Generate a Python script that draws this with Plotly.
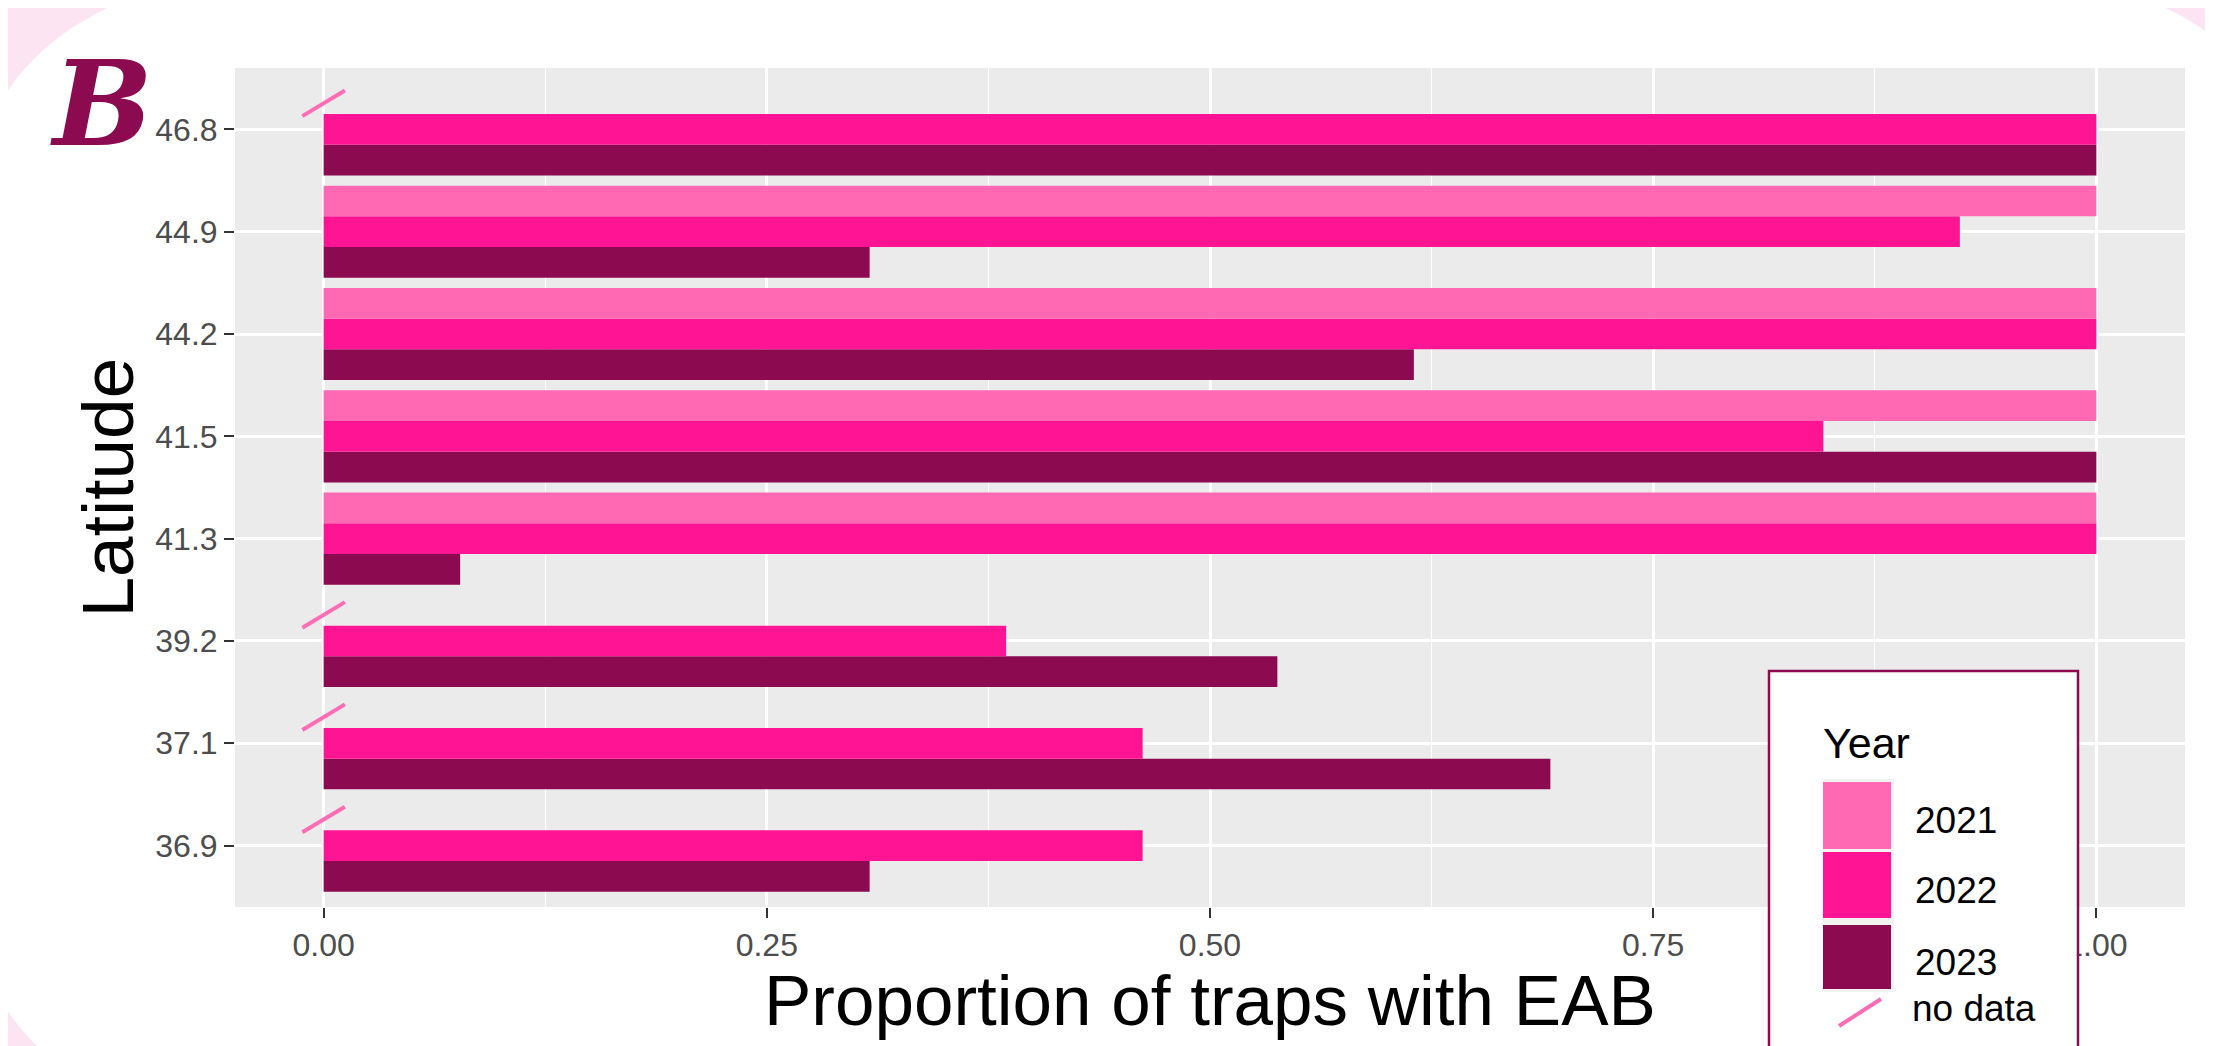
import plotly.graph_objects as go

# ---------------- data ----------------
latitudes = ["36.9", "37.1", "39.2", "41.3", "41.5", "44.2", "44.9", "46.8"]
years = ["2021", "2022", "2023"]
prop_2021 = [None, None, None, 1.0, 1.0, 1.0, 1.0, None]
prop_2022 = [0.462, 0.462, 0.385, 1.0, 0.846, 1.0, 0.923, 1.0]
prop_2023 = [0.308, 0.692, 0.538, 0.077, 1.0, 0.615, 0.308, 1.0]
x_tick_vals = [0.0, 0.25, 0.5, 0.75, 1.0]
x_tick_text = ["0.00", "0.25", "0.50", "0.75", "1.00"]
x_title = "Proportion of traps with EAB"
y_title = "Latitude"
legend_title = "Year"
no_data_label = "no data"

# ---------------- style ----------------
C2021, C2022, C2023 = "#FF69B4", "#FF1493", "#8B0A50"
SLASH = "#FF6EB4"
PINK = "#FCE4F2"
PANEL = "#EBEBEB"
FONT = "Liberation Sans, Arial, sans-serif"
OFF = 8                      # page body margin
FW, FH = 2213 - OFF, 1046 - OFF
# plot-area edges in window pixels
L, R, T, B = 235, 2185, 68, 907
PW, PH = R - L, B - T


def px(x):
    return (x - L) / PW


def py(y):
    return (B - y) / PH


ypos = list(range(len(latitudes)))
series = {"2021": (prop_2021, C2021), "2022": (prop_2022, C2022), "2023": (prop_2023, C2023)}

fig = go.Figure()
# horizontal grouped bars: first trace sits at the bottom of each group
for yr in reversed(years):
    vals, col = series[yr]
    fig.add_trace(go.Bar(
        x=vals, y=ypos, orientation="h", name=yr,
        marker=dict(color=col, line=dict(width=0)),
        hoverinfo="x+name",
    ))

# "no data" slashes where 2021 is missing
sx, sy = [], []
for i, v in zip(ypos, prop_2021):
    if v is None:
        sx += [-0.012, 0.012, None]
        sy += [i + 0.13, i + 0.38, None]
fig.add_trace(go.Scatter(x=sx, y=sy, mode="lines", name=no_data_label,
                         line=dict(color=SLASH, width=4), cliponaxis=False,
                         hoverinfo="skip"))

minor_vals = [(a + b) / 2 for a, b in zip(x_tick_vals, x_tick_vals[1:])]

fig.update_layout(
    width=FW, height=FH, autosize=False,
    margin=dict(l=L - OFF, r=FW - (R - OFF), t=T - OFF, b=FH - (B - OFF), pad=0),
    paper_bgcolor="white", plot_bgcolor=PANEL,
    barmode="group", bargap=0.1, bargroupgap=0,
    showlegend=False,
    font=dict(family=FONT, color="black"),
    xaxis=dict(
        range=[-0.05, 1.05], tickmode="array", tickvals=x_tick_vals, ticktext=x_tick_text,
        ticks="outside", ticklen=10, tickwidth=2, tickcolor="#333333",
        tickfont=dict(size=32, color="#4D4D4D", family=FONT),
        showgrid=True, gridcolor="white", gridwidth=2.6,
        minor=dict(tickmode="array", tickvals=minor_vals, showgrid=True,
                   gridcolor="white", gridwidth=1.4, ticks=""),
        zeroline=False, showline=False,
    ),
    yaxis=dict(
        range=[-0.6, len(latitudes) - 0.4], tickmode="array", tickvals=ypos, ticktext=latitudes,
        ticks="outside", ticklen=10, tickwidth=2, tickcolor="#333333",
        tickfont=dict(size=32, color="#4D4D4D", family=FONT),
        showgrid=True, gridcolor="white", gridwidth=2.6,
        zeroline=False, showline=False,
    ),
)

# ---------------- pink card corners ----------------
K = 0.5523
X0, Y0, X1, Y1, RX, RY = -25, -20, 2298, 1122, 262, 215


def corner(cx, cy, sx_, sy_):
    ax, ay = cx + sx_ * RX, cy
    bx, by = cx, cy + sy_ * RY
    c1x, c1y = cx + sx_ * (RX - K * RX), cy
    c2x, c2y = cx, cy + sy_ * (RY - K * RY)
    return "M %f,%f L %f,%f C %f,%f %f,%f %f,%f Z" % (
        px(cx), py(cy), px(ax), py(ay), px(c1x), py(c1y), px(c2x), py(c2y), px(bx), py(by))


shapes = [
    dict(type="path", xref="paper", yref="paper", layer="below", path=corner(X0, Y0, 1, 1),
         fillcolor=PINK, line=dict(width=0)),
    dict(type="path", xref="paper", yref="paper", layer="below", path=corner(X1, Y0, -1, 1),
         fillcolor=PINK, line=dict(width=0)),
    dict(type="path", xref="paper", yref="paper", layer="below", path=corner(X0, Y1, 1, -1),
         fillcolor=PINK, line=dict(width=0)),
]

ann = []
# axis titles
ann.append(dict(text=x_title, xref="paper", yref="paper", x=px((L + R) / 2), y=py(1001),
                xanchor="center", yanchor="middle", showarrow=False,
                font=dict(size=71, color="black", family=FONT)))
ann.append(dict(text=y_title, xref="paper", yref="paper", x=px(107), y=py((T + B) / 2),
                xanchor="center", yanchor="middle", showarrow=False, textangle=-90,
                font=dict(size=73, color="black", family=FONT)))

# ---------------- manual legend ----------------
shapes.append(dict(type="rect", xref="paper", yref="paper", layer="above",
                   x0=px(1769), x1=px(2078), y0=py(1070), y1=py(671),
                   fillcolor="white", line=dict(color=C2023, width=2.5)))
shapes.append(dict(type="rect", xref="paper", yref="paper", layer="above",
                   x0=px(1823), x1=px(1894), y0=py(992), y1=py(779),
                   fillcolor="#F2F2F2", line=dict(width=0)))
key_rows = [(782, 849), (852, 918), (925, 989)]
for yr, (ya, yb) in zip(years, key_rows):
    shapes.append(dict(type="rect", xref="paper", yref="paper", layer="above",
                       x0=px(1823), x1=px(1891), y0=py(yb), y1=py(ya),
                       fillcolor=series[yr][1], line=dict(width=0)))
    ann.append(dict(text=yr, xref="paper", yref="paper", x=px(1913), y=py((ya + yb) / 2 + 5),
                    xanchor="left", yanchor="middle", showarrow=False,
                    font=dict(size=37, color="black", family=FONT)))
shapes.append(dict(type="line", xref="paper", yref="paper", layer="above",
                   x0=px(1839), y0=py(1026), x1=px(1881), y1=py(999),
                   line=dict(color=SLASH, width=4)))
ann.append(dict(text=no_data_label, xref="paper", yref="paper", x=px(1910), y=py(1008),
                xanchor="left", yanchor="middle", showarrow=False,
                font=dict(size=37, color="black", family=FONT)))
ann.append(dict(text=legend_title, xref="paper", yref="paper", x=px(1821), y=py(743),
                xanchor="left", yanchor="middle", showarrow=False,
                font=dict(size=43, color="black", family=FONT)))

# panel letter
ann.append(dict(text="<b><i>B</i></b>", xref="paper", yref="paper", x=px(101), y=py(104),
                xanchor="center", yanchor="middle", showarrow=False,
                font=dict(size=118, color=C2023, family="DejaVu Serif")))

fig.update_layout(shapes=shapes, annotations=ann)

fig.write_html("out.html")
